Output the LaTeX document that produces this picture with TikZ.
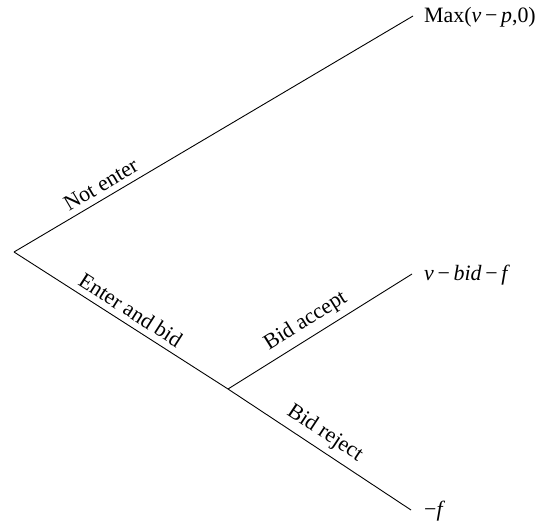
\documentclass[tikz,border=0pt]{standalone}
\usepackage{fontspec}
\setmainfont{Liberation Serif}
\begin{document}
\begin{tikzpicture}[x=1bp,y=-1bp,
  branch/.style={line width=0.9bp},
  payoff/.style={anchor=west,inner sep=0pt,font=\fontsize{22}{26}\selectfont},
  lab/.style={sloped,above,inner sep=6bp,font=\fontsize{22}{26}\selectfont}]
\useasboundingbox (0,0) rectangle (542,521);
\coordinate (R) at (14,252);
\coordinate (J) at (228,389);
\coordinate (A) at (413,16);
\coordinate (B) at (412,274);
\coordinate (C) at (411,510);
\node[payoff] (pa) at (424,17) {Max(\textit{v}\,−\,\textit{p},0)};
\node[payoff] (pb) at (424,275) {\textit{v}\,−\,\textit{bid}\,−\,\textit{f}};
\node[payoff] (pc) at (424,511) {−\textit{f}};
\draw[branch] (R) -- node[lab,pos=0.235] {Not enter} (A);
\draw[branch] (R) -- node[lab,pos=0.51] {Enter and bid} (J);
\draw[branch] (J) -- node[lab,pos=0.47] {Bid accept} (B);
\draw[branch] (J) -- node[lab,pos=0.48] {Bid reject} (C);
\end{tikzpicture}
\end{document}
